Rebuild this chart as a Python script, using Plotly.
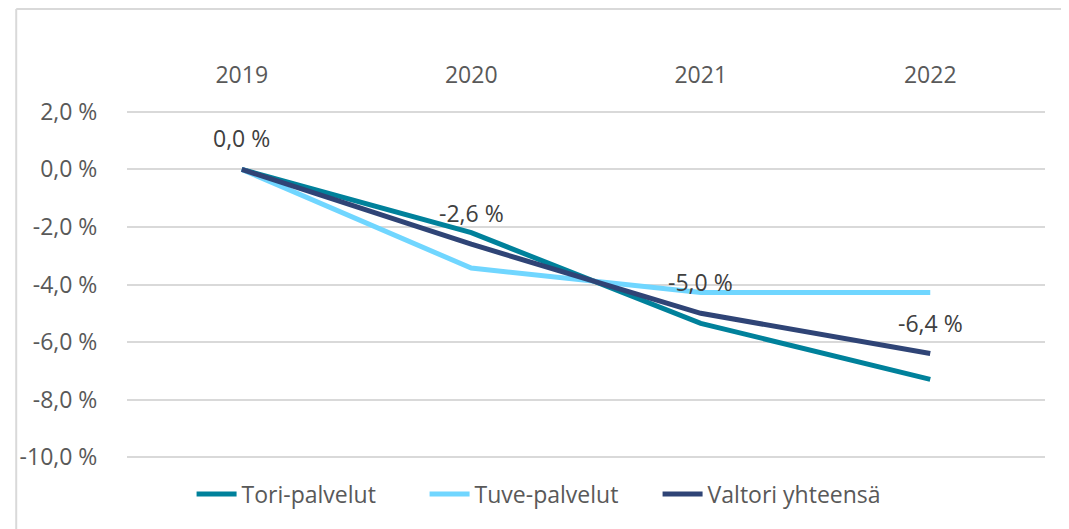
import plotly.graph_objects as go

years = ["2019", "2020", "2021", "2022"]
tori = [0.0, -2.2, -5.35, -7.3]
tuve = [0.0, -3.43, -4.28, -4.28]
valtori = [0.0, -2.6, -5.0, -6.4]
series_names = ["Tori-palvelut", "Tuve-palvelut", "Valtori yhteensä"]
colors = ["#00819B", "#70D6FF", "#2F4476"]
y_ticks = [2, 0, -2, -4, -6, -8, -10]

# page body has an 8px margin: figure drawn at (8,8)
OFF = 8
W, H = 1069 - OFF, 529 - OFF
L, R, T, B = 113, 24, 101, 69
FONT = "Open Sans"
TXT = "#595959"
FS = 23

def fmt(v):
    return f"{v:.1f}".replace(".", ",") + " %"

fig = go.Figure()
for name, vals, col in zip(series_names, [tori, tuve, valtori], colors):
    fig.add_trace(go.Scatter(x=years, y=vals, mode="lines", name=name,
                             line=dict(color=col, width=5)))

for i, v in enumerate(valtori):
    fig.add_annotation(x=i, y=v, text=fmt(v), showarrow=False, yshift=31,
                       font=dict(family=FONT, size=FS, color="#404040"))

pw = W - L - R
ph = H - T - B
def px(x):
    return (x - OFF - L) / pw
def py(y):
    return (H - B - (y - OFF)) / ph

fig.add_shape(type="line", xref="paper", yref="paper", x0=px(9.5), x1=px(1080),
              y0=py(9), y1=py(9), line=dict(color="#D9D9D9", width=2))
fig.add_shape(type="line", xref="paper", yref="paper", x0=px(9.5), x1=px(9.5),
              y0=py(9), y1=py(540), line=dict(color="#D9D9D9", width=2))

fig.update_layout(
    width=W, height=H,
    margin=dict(l=L, r=R, t=T, b=B),
    paper_bgcolor="white", plot_bgcolor="white",
    font=dict(family=FONT, size=FS, color=TXT),
    showlegend=True,
    legend=dict(orientation="h", x=px(186), xanchor="left", y=py(494), yanchor="middle",
                font=dict(family=FONT, size=FS, color=TXT), itemwidth=40,
                entrywidth=178, entrywidthmode="pixels", traceorder="normal"),
    xaxis=dict(type="category", range=[-0.5, 3.5], side="top", showgrid=False,
               showline=False, zeroline=False,
               ticks="outside", ticklen=16, tickcolor="rgba(0,0,0,0)",
               tickfont=dict(family=FONT, size=FS, color=TXT)),
    yaxis=dict(range=[-10.1, 2.1], tickvals=y_ticks, ticktext=[fmt(v) for v in y_ticks],
               showgrid=True, gridcolor="#D9D9D9", gridwidth=1.5, zeroline=False,
               showline=False, ticks="outside", ticklen=24, tickcolor="rgba(0,0,0,0)",
               tickfont=dict(family=FONT, size=FS, color=TXT)),
)

fig.write_html("out.html")
